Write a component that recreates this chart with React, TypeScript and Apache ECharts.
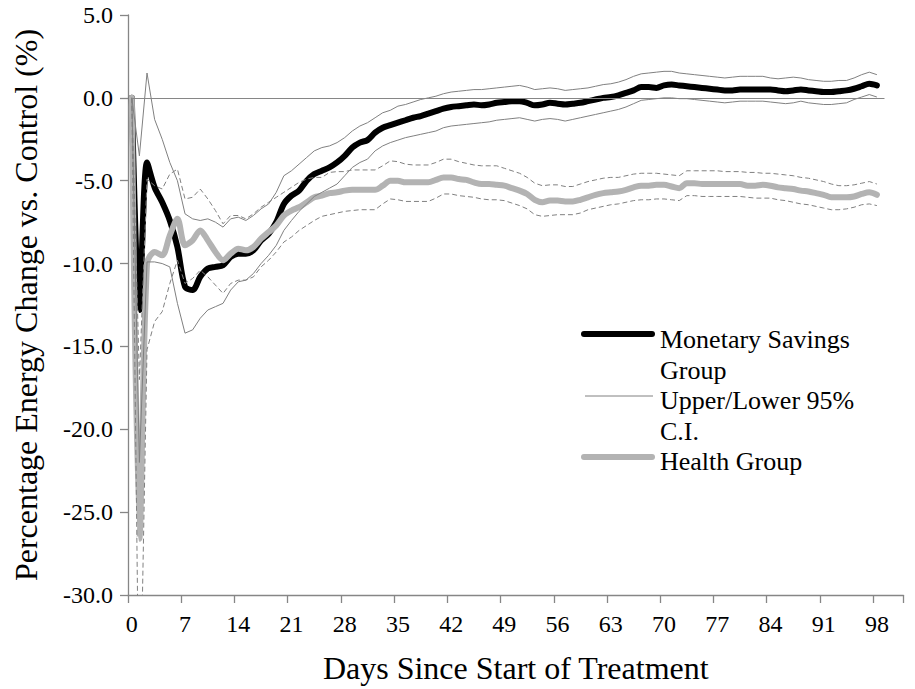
import React, { useEffect, useRef } from "react";
import * as echarts from "echarts";

// Categories: days since start of treatment (axis runs a little past the last data day)
const days: string[] = Array.from({ length: 102 }, (_, i) => String(i));

// Monetary Savings Group (mean), days 0..98
const monetary = [
  0, -12.8, -3.9, -5.4, -6.3, -7.4, -9.0, -11.4, -11.6, -10.8,
  -10.3, -10.2, -10.1, -9.6, -9.4, -9.4, -9.2, -8.6, -8.2, -7.5,
  -6.4, -5.9, -5.6, -5.0, -4.6, -4.4, -4.2, -3.9, -3.5, -3.0,
  -2.7, -2.55, -2.1, -1.8, -1.65, -1.5, -1.35, -1.2, -1.1, -0.95,
  -0.8, -0.65, -0.55, -0.5, -0.45, -0.4, -0.45, -0.4, -0.3, -0.25,
  -0.2, -0.2, -0.3, -0.45, -0.4, -0.3, -0.35, -0.4, -0.35, -0.3,
  -0.2, -0.1, 0.0, 0.05, 0.15, 0.3, 0.45, 0.65, 0.65, 0.6,
  0.75, 0.8, 0.75, 0.7, 0.65, 0.6, 0.55, 0.5, 0.45, 0.45,
  0.5, 0.5, 0.5, 0.5, 0.5, 0.45, 0.4, 0.45, 0.5, 0.45,
  0.4, 0.35, 0.35, 0.4, 0.45, 0.55, 0.7, 0.85, 0.75,
];

const monetaryUpper = [
  0, -3.5, 1.5, -1.3, -2.5, -3.9, -5.0, -7.0, -7.3, -7.4,
  -7.3, -7.5, -7.8, -7.3, -7.2, -7.4, -7.1, -6.7, -6.4, -5.7,
  -4.7, -4.4, -4.0, -3.6, -3.2, -3.0, -2.9, -2.7, -2.4, -2.0,
  -1.7, -1.5, -1.2, -0.9, -0.75, -0.5, -0.4, -0.25, -0.1, 0.0,
  0.1, 0.25, 0.35, 0.4, 0.45, 0.5, 0.5, 0.55, 0.6, 0.65,
  0.7, 0.75, 0.65, 0.5, 0.55, 0.6, 0.55, 0.45, 0.5, 0.55,
  0.6, 0.7, 0.8, 0.85, 0.95, 1.1, 1.3, 1.45, 1.5, 1.55,
  1.6, 1.6, 1.5, 1.45, 1.4, 1.35, 1.3, 1.25, 1.2, 1.25,
  1.3, 1.3, 1.3, 1.3, 1.2, 1.15, 1.2, 1.25, 1.2, 1.1,
  1.05, 1.0, 1.0, 1.05, 1.05, 1.2, 1.4, 1.55, 1.4,
];

const monetaryLower = [
  0, -22.0, -9.9, -9.9, -10.0, -10.2, -12.4, -14.2, -14.0, -13.3,
  -12.8, -12.6, -12.4, -11.6, -11.1, -11.0, -10.6, -10.0, -9.5, -8.9,
  -8.0, -7.4, -6.85, -6.4, -5.95, -5.7, -5.45, -5.2, -4.7, -4.2,
  -3.9, -3.7, -3.2, -2.9, -2.7, -2.55, -2.4, -2.3, -2.2, -2.1,
  -2.0, -1.8, -1.7, -1.65, -1.6, -1.55, -1.5, -1.45, -1.35, -1.3,
  -1.25, -1.2, -1.3, -1.4, -1.3, -1.25, -1.3, -1.4, -1.3, -1.2,
  -1.1, -1.0, -0.9, -0.8, -0.7, -0.55, -0.35, -0.15, -0.1, -0.05,
  0.0, 0.0, -0.05, -0.05, -0.1, -0.15, -0.2, -0.25, -0.3, -0.25,
  -0.2, -0.2, -0.2, -0.2, -0.25, -0.3, -0.35, -0.3, -0.2, -0.3,
  -0.35, -0.4, -0.4, -0.35, -0.3, -0.1, 0.05, 0.2, 0.05,
];

// Health Group (mean), days 0..98
const health = [
  0, -26.6, -10.0, -9.3, -9.5, -8.3, -7.3, -8.9, -8.6, -8.0,
  -8.6, -9.3, -9.8, -9.4, -9.1, -9.2, -9.0, -8.5, -8.1, -7.7,
  -7.1, -6.8, -6.6, -6.3, -6.0, -5.9, -5.75, -5.7, -5.6, -5.55,
  -5.55, -5.55, -5.55, -5.3, -5.0, -5.0, -5.1, -5.1, -5.1, -5.1,
  -4.95, -4.8, -4.8, -4.9, -4.95, -5.1, -5.2, -5.2, -5.25, -5.3,
  -5.45, -5.6, -5.8, -6.15, -6.3, -6.2, -6.2, -6.25, -6.25, -6.15,
  -6.0, -5.85, -5.75, -5.7, -5.65, -5.55, -5.4, -5.3, -5.3, -5.25,
  -5.25, -5.35, -5.45, -5.15, -5.15, -5.2, -5.2, -5.2, -5.2, -5.2,
  -5.2, -5.3, -5.3, -5.25, -5.3, -5.4, -5.45, -5.5, -5.6, -5.65,
  -5.75, -5.85, -6.0, -6.0, -6.0, -5.95, -5.8, -5.7, -5.85,
];

const healthUpper = [
  0, -17.0, -4.9, -5.3, -5.5, -4.6, -4.3, -6.1, -6.0, -5.5,
  -6.1, -6.8, -7.6, -7.1, -7.1, -7.3, -7.0, -6.6, -6.3, -6.0,
  -5.7, -5.4, -5.1, -4.9, -4.8, -4.8, -4.5, -4.45, -4.45, -4.35,
  -4.35, -4.35, -4.35, -4.1, -3.8, -3.85, -4.0, -4.05, -4.05, -4.05,
  -3.9, -3.7, -3.7, -3.85, -3.95, -4.05, -4.1, -4.1, -4.1, -4.25,
  -4.4, -4.55, -4.8, -5.15, -5.3, -5.25, -5.25, -5.35, -5.35, -5.2,
  -5.05, -4.95, -4.85, -4.8, -4.8, -4.7, -4.6, -4.55, -4.55, -4.55,
  -4.6, -4.65, -4.7, -4.4, -4.4, -4.4, -4.4, -4.4, -4.45, -4.45,
  -4.45, -4.5, -4.5, -4.55, -4.55, -4.6, -4.65, -4.7, -4.8, -4.85,
  -4.95, -5.05, -5.2, -5.3, -5.3, -5.25, -5.15, -5.05, -5.2,
];

const healthLower = [
  0, -40.0, -15.2, -13.5, -12.9, -11.2, -9.8, -11.2, -10.9, -10.4,
  -10.8, -11.3, -11.8, -11.2, -11.0, -11.0, -10.8, -10.2, -9.8, -9.3,
  -8.7, -8.4, -8.0, -7.7, -7.4, -7.15, -7.05, -6.95, -6.85, -6.8,
  -6.75, -6.75, -6.75, -6.4, -6.1, -6.15, -6.25, -6.25, -6.25, -6.25,
  -6.05, -5.8, -5.8, -5.9, -5.95, -6.0, -6.1, -6.15, -6.15, -6.2,
  -6.35, -6.5, -6.7, -7.05, -7.15, -7.1, -7.05, -7.05, -7.05, -6.95,
  -6.75, -6.65, -6.55, -6.45, -6.4, -6.3, -6.2, -6.15, -6.15, -6.1,
  -6.1, -6.15, -6.2, -5.9, -5.9, -5.95, -5.95, -5.95, -5.95, -5.95,
  -5.95, -6.0, -6.05, -6.05, -6.05, -6.15, -6.2, -6.3, -6.4, -6.45,
  -6.55, -6.65, -6.75, -6.75, -6.7, -6.6, -6.45, -6.4, -6.5,
];

// Reference (zero) line span, in category names
const zeroLineStart = "0";
const zeroLineEnd = "99";

// Legend texts
const legendLabels = ["Monetary Savings\nGroup", "Upper/Lower 95%\nC.I.", "Health Group"];

const FONT = "Liberation Serif";
const AXIS_GRAY = "#868686";
const CI_GRAY = "#808080";
const HEALTH_GRAY = "#b3b3b3";

export default function App() {
  const ref = useRef<HTMLDivElement | null>(null);

  useEffect(() => {
    if (!ref.current) return;
    const chart = echarts.init(ref.current, null, { renderer: "svg" });

    const ciSeries = (name: string, data: number[], dashed: boolean) => ({
      name,
      type: "line",
      data,
      symbol: "none",
      smooth: false,
      silent: true,
      lineStyle: {
        color: CI_GRAY,
        width: 1,
        type: dashed ? [5, 3] : "solid",
      },
      z: 3,
    });

    const legendText = (x: number, y: number, text: string) => ({
      type: "text",
      x,
      y,
      style: {
        text,
        fontFamily: FONT,
        fontSize: 26,
        fill: "#000",
        lineHeight: 31,
        verticalAlign: "top",
      },
    });

    const option: any = {
      animation: false,
      backgroundColor: "#ffffff",
      textStyle: { fontFamily: FONT },
      grid: { left: 128, top: 15, right: 11.5, bottom: 92, containLabel: false },
      xAxis: {
        type: "category",
        data: days,
        boundaryGap: true,
        axisLine: { show: true, onZero: false, lineStyle: { color: AXIS_GRAY, width: 1.3 } },
        axisTick: { show: true, interval: 6, length: 8, lineStyle: { color: AXIS_GRAY, width: 1.3 } },
        axisLabel: { interval: 6, fontSize: 24, color: "#000", fontFamily: FONT, margin: 17 },
        splitLine: { show: false },
        name: "Days Since Start of Treatment",
        nameLocation: "middle",
        nameGap: 57,
        nameTextStyle: { fontSize: 32, color: "#000", fontFamily: FONT },
      },
      yAxis: {
        type: "value",
        min: -30,
        max: 5,
        interval: 5,
        axisLine: { show: true, lineStyle: { color: AXIS_GRAY, width: 1.3 } },
        axisTick: { show: true, length: 8, lineStyle: { color: AXIS_GRAY, width: 1.3 } },
        axisLabel: {
          formatter: (v: number) => v.toFixed(1),
          fontSize: 24,
          color: "#000",
          fontFamily: FONT,
          margin: 15,
        },
        splitLine: { show: false },
        name: "Percentage Energy Change vs. Control (%)",
        nameLocation: "middle",
        nameGap: 86,
        nameTextStyle: { fontSize: 32, color: "#000", fontFamily: FONT },
      },
      series: [
        {
          name: "Monetary Savings Group",
          type: "line",
          data: monetary,
          symbol: "none",
          smooth: 0.3,
          lineStyle: { color: "#000", width: 6, cap: "round", join: "round" },
          z: 2,
        },
        {
          name: "Health Group",
          type: "line",
          data: health,
          symbol: "none",
          smooth: 0.3,
          lineStyle: { color: HEALTH_GRAY, width: 6, cap: "round", join: "round" },
          z: 2,
        },
        ciSeries("Monetary Upper 95% C.I.", monetaryUpper, false),
        ciSeries("Monetary Lower 95% C.I.", monetaryLower, false),
        ciSeries("Health Upper 95% C.I.", healthUpper, true),
        {
          ...ciSeries("Health Lower 95% C.I.", healthLower, true),
          markLine: {
            silent: true,
            symbol: "none",
            label: { show: false },
            lineStyle: { color: AXIS_GRAY, width: 1, type: "solid" },
            data: [[{ coord: [zeroLineStart, 0] }, { coord: [zeroLineEnd, 0] }]],
          },
        },
      ],
      graphic: [
        {
          type: "line",
          shape: { x1: 584, y1: 334, x2: 652, y2: 334 },
          style: { stroke: "#000", lineWidth: 6, lineCap: "round" },
        },
        legendText(660, 324, legendLabels[0]),
        {
          type: "line",
          shape: { x1: 585, y1: 396, x2: 653, y2: 396 },
          style: { stroke: CI_GRAY, lineWidth: 1 },
        },
        legendText(660, 385, legendLabels[1]),
        {
          type: "line",
          shape: { x1: 584, y1: 457, x2: 652, y2: 457 },
          style: { stroke: HEALTH_GRAY, lineWidth: 6, lineCap: "round" },
        },
        legendText(660, 446, legendLabels[2]),
      ],
    };

    chart.setOption(option);
    return () => chart.dispose();
  }, []);

  return (
    <div
      ref={ref}
      style={{ position: "fixed", left: 0, top: 0, width: 915, height: 689, background: "#fff" }}
    />
  );
}
